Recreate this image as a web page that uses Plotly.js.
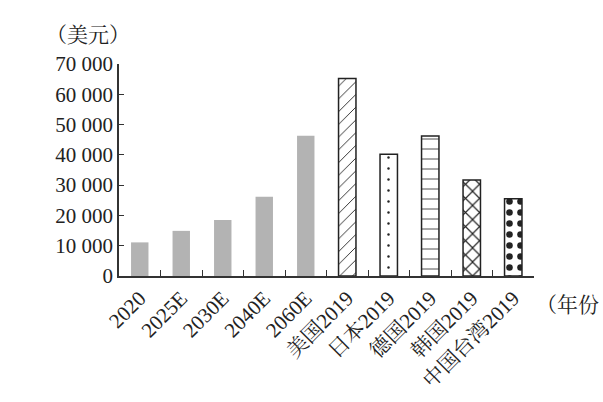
<!DOCTYPE html>
<html>
<head>
<meta charset="utf-8">
<script src="https://cdn.plot.ly/plotly-3.0.1.min.js"></script>
<style>html,body{margin:0;padding:0;background:#fff;}#chart{width:603px;height:402px;}</style>
</head>
<body>
<div id="chart"></div>
<script>
const categories = ["2020","2025E","2030E","2040E","2060E","美国2019","日本2019","德国2019","韩国2019","中国台湾2019"];
const values = [11100, 14900, 18500, 26200, 46300, 65200, 40200, 46200, 31700, 25500];
const yTickVals = [0,10000,20000,30000,40000,50000,60000,70000];
const yTickText = ["0","10 000","20 000","30 000","40 000","50 000","60 000","70 000"];
const yUnit = "（美元）";
const xUnit = "（年份";

const serif = "'Liberation Serif', 'Noto Serif CJK SC', 'Noto Sans CJK SC', serif";

// style per bar (index into categories)
const styles = [
  {shape: "", size: 8, sol: 0.3},
  {shape: "", size: 8, sol: 0.3},
  {shape: "", size: 8, sol: 0.3},
  {shape: "", size: 8, sol: 0.3},
  {shape: "", size: 8, sol: 0.3},
  {shape: "/", size: 9, sol: 0.1},
  {shape: ".", size: 11, sol: 0.04},
  {shape: "-", size: 10, sol: 0.08},
  {shape: "x", size: 10, sol: 0.22},
  {shape: ".", size: 11, sol: 0.28}
];

const traces = categories.map((c, i) => {
  const s = styles[i];
  const gray = s.shape === "";
  const marker = gray
    ? {color: "#b3b3b3", line: {width: 0}}
    : {color: "#ffffff", line: {color: "#222", width: 1.5},
       pattern: {shape: s.shape, size: s.size, solidity: s.sol, fgcolor: "#222", fgopacity: 1, bgcolor: "#ffffff", fillmode: "overlay"}};
  return {type: "bar", x: [c], y: [values[i]], width: 0.42, marker: marker, hoverinfo: "skip"};
});

const layout = {
  width: 603, height: 402,
  margin: {l: 119, r: 69, t: 64, b: 126},
  paper_bgcolor: "#fff", plot_bgcolor: "#fff",
  showlegend: false,
  barmode: "overlay",
  font: {family: serif, color: "#222", size: 21},
  xaxis: {
    type: "category", categoryorder: "array", categoryarray: categories,
    showline: true, linecolor: "#333", linewidth: 1.5,
    ticks: "inside", tickson: "boundaries", ticklen: 6, tickcolor: "#333", tickwidth: 1.2,
    tickangle: -45,
    tickfont: {family: serif, size: 21, color: "#222"},
    showgrid: false, zeroline: false, fixedrange: true
  },
  yaxis: {
    range: [0, 70000],
    tickvals: yTickVals, ticktext: yTickText,
    showline: true, linecolor: "#333", linewidth: 1.5,
    ticks: "inside", ticklen: 5, tickcolor: "#333", tickwidth: 1.2,
    tickfont: {family: serif, size: 21, color: "#222"},
    showgrid: false, zeroline: false, fixedrange: true
  },
  annotations: [
    {text: yUnit, xref: "paper", yref: "paper", x: -0.075, y: 1.137, xanchor: "center", yanchor: "middle", showarrow: false, font: {family: serif, size: 21, color: "#222"}},
    {text: xUnit, xref: "paper", yref: "paper", x: 1.0, y: -0.137, xanchor: "left", yanchor: "middle", showarrow: false, font: {family: serif, size: 21, color: "#222"}}
  ]
};

Plotly.newPlot("chart", traces, layout, {displayModeBar: false});
</script>
</body>
</html>
